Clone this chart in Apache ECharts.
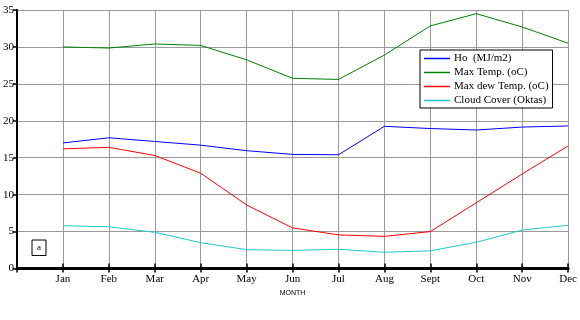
<!DOCTYPE html>
<html><head><meta charset="utf-8">
<script src="https://cdn.jsdelivr.net/npm/echarts@6/dist/echarts.min.js"></script>
<style>html,body{margin:0;padding:0;background:#fff}#c{width:580px;height:320px}</style>
</head><body><div id="c"></div>
<script>
const months = ['Jan','Feb','Mar','Apr','May','Jun','Jul','Aug','Sept','Oct','Nov','Dec'];
const yTicks = [0,5,10,15,20,25,30,35];
const ho      = [17.0,17.7,17.2,16.7,15.95,15.45,15.4,19.25,18.95,18.75,19.15,19.3];
const maxTemp = [30.0,29.85,30.4,30.2,28.25,25.75,25.6,28.9,32.85,34.5,32.7,30.5];
const maxDew  = [16.2,16.4,15.3,12.9,8.6,5.5,4.55,4.35,5.0,8.9,12.8,16.6];
const cloud   = [5.8,5.65,4.9,3.5,2.55,2.45,2.6,2.2,2.4,3.55,5.2,5.85];
const names = ['Ho  (MJ/m2)','Max Temp. (oC)','Max dew Temp. (oC)','Cloud Cover (Oktas)'];
const colors = ['#0000ff','#008000','#ff0000','#20c8c8'];
const seriesVals = [ho, maxTemp, maxDew, cloud];

const serif = '"Liberation Serif","Times New Roman",serif';
const chart = echarts.init(document.getElementById('c'));
const pts = v => v.map((y,i)=>[i+1,y]);
chart.setOption({
  animation:false,
  grid:{left:17,right:8,top:10,bottom:51.5},
  xAxis:[{
    type:'value',min:0,max:months.length,interval:1,
    axisLine:{lineStyle:{color:'#000',width:3}},
    axisTick:{show:true,inside:true,length:5,lineStyle:{color:'#000',width:1.5}},
    axisLabel:{color:'#000',fontFamily:serif,fontSize:11,margin:5,
      formatter:v=>v>=1&&v<=months.length?months[v-1]:''},
    splitLine:{show:true,lineStyle:{color:'#999',width:1}},
    name:'MONTH',nameLocation:'middle',nameGap:20,
    nameTextStyle:{fontFamily:'"Liberation Sans",Arial,sans-serif',fontSize:7,color:'#000'}
  },{
    type:'value',position:'top',min:0,max:months.length,interval:1,
    axisLine:{show:true,lineStyle:{color:'#000',width:1.5}},
    axisTick:{show:true,inside:true,length:4,lineStyle:{color:'#000',width:1.5}},
    axisLabel:{show:false},splitLine:{show:false}
  }],
  yAxis:[{
    type:'value',min:yTicks[0],max:yTicks[yTicks.length-1],interval:5,
    axisLine:{show:true,lineStyle:{color:'#000',width:2}},
    axisTick:{show:false},
    axisLabel:{color:'#000',fontFamily:serif,fontSize:11,margin:3},
    splitLine:{show:true,lineStyle:{color:'#999',width:1}}
  },{
    type:'value',position:'right',min:yTicks[0],max:yTicks[yTicks.length-1],interval:5,
    axisLine:{show:true,lineStyle:{color:'#000',width:1.5}},
    axisTick:{show:true,inside:true,length:4,lineStyle:{color:'#000',width:1.5}},
    axisLabel:{show:false},splitLine:{show:false}
  }],
  legend:{
    orient:'vertical',left:420,top:50,
    backgroundColor:'#fff',borderColor:'#000',borderWidth:1,
    padding:[3,4,2,4],itemGap:3,itemWidth:26,itemHeight:1.5,
    icon:'rect',
    textStyle:{fontFamily:serif,fontSize:11,color:'#000',padding:[0,0,0,-1]},
    data:names
  },
  series:seriesVals.map((v,k)=>({
    name:names[k],type:'line',data:pts(v),symbol:'none',
    lineStyle:{color:colors[k],width:1},itemStyle:{color:colors[k]}
  })),
  graphic:[
    {type:'rect',shape:{x:32,y:240,width:14,height:15.5},style:{fill:'#fff',stroke:'#000',lineWidth:1}},
    {type:'text',x:39,y:248,style:{text:'a',fontFamily:serif,fontSize:9,fill:'#000',align:'center',verticalAlign:'middle'}}
  ]
});
</script></body></html>
